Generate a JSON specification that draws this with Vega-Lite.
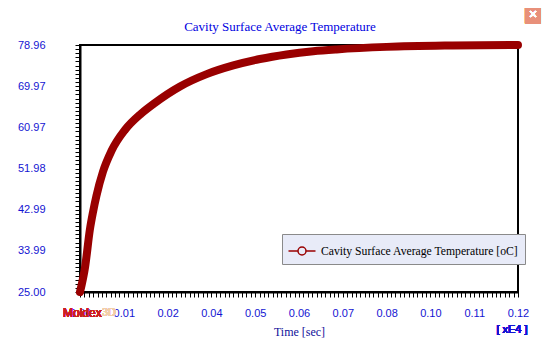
{
  "$schema": "https://vega.github.io/schema/vega-lite/v6.json",
  "width": 438,
  "height": 247,
  "autosize": {"type": "none"},
  "padding": {"left": 80, "top": 45, "right": 36, "bottom": 64},
  "background": "white",
  "title": {
    "text": "Cavity Surface Average Temperature",
    "font": "Liberation Serif",
    "fontSize": 13,
    "fontWeight": "normal",
    "color": "#0000e0",
    "anchor": "middle",
    "offset": -29,
    "dx": -19
  },
  "config": {
    "view": {"stroke": "#000000", "strokeWidth": 2},
    "axis": {
      "domainColor": "#000000",
      "domainWidth": 2,
      "tickColor": "#000000",
      "tickWidth": 1,
      "grid": false,
      "labelFont": "Liberation Sans",
      "labelFontSize": 11,
      "labelColor": "#1414d2",
      "labelOverlap": false,
      "labelBound": false,
      "labelFlush": false
    },
    "legend": {
      "orient": "none",
      "legendX": 202,
      "legendY": 189,
      "fillColor": "#e8ebf8",
      "strokeColor": "#8a8a8a",
      "padding": 6,
      "symbolType": "M-1.35,0H-0.4M0.4,0H1.35M-0.4,0A0.4,0.4 0 1,0 0.4,0A0.4,0.4 0 1,0 -0.4,0",
      "symbolSize": 400,
      "symbolStrokeWidth": 1.5,
      "symbolFillColor": "transparent",
      "symbolOffset": 3,
      "labelFont": "Liberation Serif",
      "labelFontSize": 11.7,
      "labelColor": "#000000",
      "labelOffset": 8,
      "labelLimit": 400
    }
  },
  "data": {
    "values": [
      {"t": 0, "temp": 25},
      {"t": 0.0014, "temp": 30.5},
      {"t": 0.0027, "temp": 38.6},
      {"t": 0.0036, "temp": 42.6},
      {"t": 0.0045, "temp": 46.0},
      {"t": 0.0063, "temp": 51.3},
      {"t": 0.0086, "temp": 55.8},
      {"t": 0.0123, "temp": 60.4},
      {"t": 0.0168, "temp": 64.0},
      {"t": 0.0205, "temp": 66.3},
      {"t": 0.0274, "temp": 69.9},
      {"t": 0.0347, "temp": 72.6},
      {"t": 0.042, "temp": 74.5},
      {"t": 0.0493, "temp": 75.9},
      {"t": 0.0566, "temp": 76.9},
      {"t": 0.0639, "temp": 77.6},
      {"t": 0.0703, "temp": 78.0},
      {"t": 0.084, "temp": 78.55},
      {"t": 0.102, "temp": 78.85},
      {"t": 0.12, "temp": 78.96}
    ]
  },
  "layer": [
    {
      "mark": {"type": "line", "strokeWidth": 8, "strokeCap": "round", "strokeJoin": "round", "interpolate": "monotone", "clip": false},
      "encoding": {
        "x": {
          "field": "t",
          "type": "quantitative",
          "scale": {"domain": [0, 0.12], "nice": false, "zero": false},
          "axis": {
            "title": "Time [sec]",
            "titleFont": "Liberation Serif",
            "titleFontSize": 12,
            "titleFontWeight": "normal",
            "titleColor": "#10109a",
            "titlePadding": 8,
            "tickCount": 300,
            "values": [0, 0.0012, 0.0024, 0.0036, 0.0048, 0.006, 0.0072, 0.0084, 0.0096, 0.0108, 0.012, 0.0132, 0.0144, 0.0156, 0.0168, 0.018, 0.0192, 0.0204, 0.0216, 0.0228, 0.024, 0.0252, 0.0264, 0.0276, 0.0288, 0.03, 0.0312, 0.0324, 0.0336, 0.0348, 0.036, 0.0372, 0.0384, 0.0396, 0.0408, 0.042, 0.0432, 0.0444, 0.0456, 0.0468, 0.048, 0.0492, 0.0504, 0.0516, 0.0528, 0.054, 0.0552, 0.0564, 0.0576, 0.0588, 0.06, 0.0612, 0.0624, 0.0636, 0.0648, 0.066, 0.0672, 0.0684, 0.0696, 0.0708, 0.072, 0.0732, 0.0744, 0.0756, 0.0768, 0.078, 0.0792, 0.0804, 0.0816, 0.0828, 0.084, 0.0852, 0.0864, 0.0876, 0.0888, 0.09, 0.0912, 0.0924, 0.0936, 0.0948, 0.096, 0.0972, 0.0984, 0.0996, 0.1008, 0.102, 0.1032, 0.1044, 0.1056, 0.1068, 0.108, 0.1092, 0.1104, 0.1116, 0.1128, 0.114, 0.1152, 0.1164, 0.1176, 0.1188, 0.12],
            "labelExpr": "abs(datum.value/0.012 - round(datum.value/0.012)) < 0.02 ? format(datum.value, '.2f') : ''",
            "tickSize": 5,
            "labelPadding": 10
          }
        },
        "y": {
          "field": "temp",
          "type": "quantitative",
          "scale": {"domain": [25, 78.96], "nice": false, "zero": false},
          "axis": {
            "title": null,
            "tickCount": 300,
            "values": [25, 25.8993, 26.7986, 27.6979, 28.5972, 29.4965, 30.3958, 31.2951, 32.1944, 33.0937, 33.993, 34.8923, 35.7916, 36.6909, 37.5902, 38.4895, 39.3888, 40.2881, 41.1874, 42.0867, 42.987, 43.8853, 44.7846, 45.6839, 46.5832, 47.4825, 48.3818, 49.2811, 50.1804, 51.0797, 51.98, 52.8783, 53.7776, 54.6769, 55.5762, 56.4755, 57.3748, 58.2741, 59.1734, 60.0727, 60.973, 61.8713, 62.7706, 63.6699, 64.5692, 65.4685, 66.3678, 67.2671, 68.1664, 69.0657, 69.967, 70.8643, 71.7636, 72.6629, 73.5622, 74.4615, 75.3608, 76.2601, 77.1594, 78.0587, 78.96],
            "labelExpr": "abs((datum.value-25)/8.993 - round((datum.value-25)/8.993)) < 0.02 ? format(datum.value, '.2f') : ''",
            "tickSize": 5,
            "labelPadding": 30
          }
        },
        "color": {
          "datum": "Cavity Surface Average Temperature [oC]",
          "type": "nominal",
          "scale": {"range": ["#990000"]},
          "legend": {"title": null, "labelExpr": "datum.label + '          '"}
        }
      }
    },
    {
      "mark": {"type": "text", "text": "[ xE4 ]", "align": "center", "baseline": "middle", "dx": -6, "dy": 38, "font": "Liberation Sans", "fontSize": 11, "color": "#1414d2"},
      "encoding": {"x": {"datum": 0.12, "type": "quantitative"}, "y": {"datum": 25, "type": "quantitative"}}
    },
    {
      "mark": {"type": "text", "text": "Moldex", "align": "left", "baseline": "middle", "dx": -17, "dy": 21, "font": "Liberation Sans", "fontSize": 12, "color": "#cc2020"},
      "encoding": {"x": {"datum": 0, "type": "quantitative"}, "y": {"datum": 25, "type": "quantitative"}}
    },
    {
      "mark": {"type": "text", "text": "3D", "align": "left", "baseline": "middle", "dx": 22, "dy": 21, "font": "Liberation Sans", "fontSize": 11, "color": "#f2cfa8"},
      "encoding": {"x": {"datum": 0, "type": "quantitative"}, "y": {"datum": 25, "type": "quantitative"}}
    },
    {
      "mark": {"type": "text", "text": "■", "align": "center", "baseline": "middle", "dx": 15, "dy": -30, "font": "DejaVu Sans", "fontSize": 20, "color": "#e8907a"},
      "encoding": {"x": {"datum": 0.12, "type": "quantitative"}, "y": {"datum": 78.96, "type": "quantitative"}}
    },
    {
      "mark": {"type": "text", "text": "✕", "align": "center", "baseline": "middle", "dx": 15, "dy": -30, "font": "DejaVu Sans", "fontSize": 11, "color": "#ffffff"},
      "encoding": {"x": {"datum": 0.12, "type": "quantitative"}, "y": {"datum": 78.96, "type": "quantitative"}}
    }
  ]
}
